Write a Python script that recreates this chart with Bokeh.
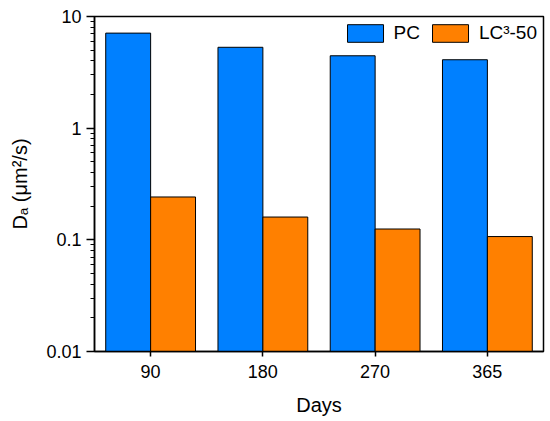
from bokeh.plotting import figure
from bokeh.models import ColumnDataSource, FactorRange, Range1d, FixedTicker, CustomJSTickFormatter
from bokeh.transform import dodge
from bokeh.embed import file_html
from bokeh.resources import INLINE

days = ["90", "180", "270", "365"]
pc = [7.1, 5.3, 4.45, 4.1]
lc3_50 = [0.242, 0.160, 0.125, 0.107]
y_ticks = [0.01, 0.1, 1, 10]
y_min, y_max = 0.01, 10

FONT = "Liberation Sans"
BLUE = "#0080FF"
ORANGE = "#FF8000"

src = ColumnDataSource(dict(day=days, pc=pc, lc=lc3_50, base=[y_min] * len(days)))

p = figure(
    x_range=FactorRange(*days, range_padding=0),
    y_range=Range1d(y_min, y_max),
    y_axis_type="log",
    width=550, height=421,
    min_border_left=94, min_border_right=7, min_border_top=16, min_border_bottom=70,
    output_backend="svg", toolbar_location=None,
)

p.vbar(x=dodge("day", -0.2, range=p.x_range), top="pc", bottom="base", width=0.4, source=src,
       fill_color=BLUE, line_color="black", line_width=1, legend_label="PC")
p.vbar(x=dodge("day", 0.2, range=p.x_range), top="lc", bottom="base", width=0.4, source=src,
       fill_color=ORANGE, line_color="black", line_width=1, legend_label="LC\u00b3-50")

minor = [k * 10.0 ** e for e in (-2, -1, 0) for k in range(2, 10)]
p.yaxis.ticker = FixedTicker(ticks=y_ticks, minor_ticks=minor)
p.yaxis.formatter = CustomJSTickFormatter(code="return tick.toString()")

p.xgrid.visible = False
p.ygrid.visible = False
p.outline_line_color = "black"
p.outline_line_width = 1.5
p.outline_line_alpha = 1

for ax in (p.xaxis[0], p.yaxis[0]):
    ax.axis_line_color = "black"
    ax.axis_line_width = 1.5
    ax.major_tick_line_color = "black"
    ax.major_tick_line_width = 1.5
    ax.minor_tick_line_color = "black"
    ax.minor_tick_line_width = 1.2
    ax.major_tick_in = 0
    ax.minor_tick_in = 0
    ax.major_label_text_font = FONT
    ax.major_label_text_font_size = "18px"
    ax.major_label_text_color = "black"
    ax.axis_label_text_font = FONT
    ax.axis_label_text_font_size = "20px"
    ax.axis_label_text_font_style = "normal"
    ax.axis_label_text_color = "black"

p.yaxis.major_tick_out = 8
p.yaxis.minor_tick_out = 4
p.yaxis.major_label_standoff = 5
p.yaxis.axis_label = "D\u2090 (\u03bcm\u00b2/s)"
p.yaxis.axis_label_standoff = 12

p.xaxis.major_tick_out = 5
p.xaxis.minor_tick_out = 0
p.xaxis.major_label_standoff = 8
p.xaxis.axis_label = "Days"
p.xaxis.axis_label_standoff = 13

lg = p.legend[0]
lg.orientation = "horizontal"
lg.location = "top_right"
lg.border_line_color = None
lg.background_fill_alpha = 0
lg.margin = 6
lg.padding = 2
lg.spacing = 8
lg.label_standoff = 6
lg.glyph_width = 45
lg.glyph_height = 22
lg.label_text_font = FONT
lg.label_text_font_size = "19px"
lg.label_text_color = "black"

open("out.html", "w").write(file_html(p, INLINE))
